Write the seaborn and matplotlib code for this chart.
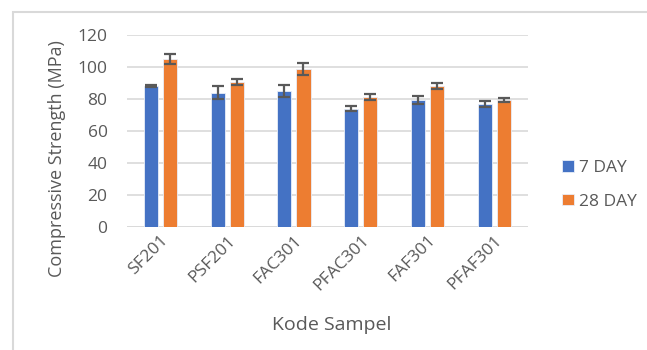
import numpy as np
import pandas as pd
import seaborn as sns
import matplotlib.pyplot as plt
from matplotlib.patches import Rectangle

categories = ["SF201", "PSF201", "FAC301", "PFAC301", "FAF301", "PFAF301"]
series_names = ["7 DAY", "28 DAY"]
day7 = [88.1, 84.0, 85.0, 73.8, 79.2, 76.9]
day28 = [104.8, 90.6, 98.6, 81.3, 88.1, 79.2]
err7 = [0.5, 4.2, 3.6, 1.6, 2.6, 1.9]
err28 = [3.2, 2.0, 3.9, 1.7, 2.0, 1.4]

df = pd.DataFrame({
    "Kode": categories * 2,
    "Series": [series_names[0]] * 6 + [series_names[1]] * 6,
    "Value": day7 + day28,
})

sns.set_theme(style="white")
plt.rcParams["font.family"] = ["Open Sans", "DejaVu Sans"]

fig = plt.figure(figsize=(6.47, 3.5), dpi=100)
ax = fig.add_axes([127 / 647, 1 - 226.7 / 350, (527.7 - 127) / 647, (226.7 - 35) / 350])

palette = {"7 DAY": "#4472C4", "28 DAY": "#ED7D31"}
sns.barplot(data=df, x="Kode", y="Value", hue="Series", palette=palette,
            width=0.57, gap=0.26, ax=ax, legend=True, saturation=1,
            edgecolor="#e8eef8", linewidth=0.6)

# error bars from the bars' positions
errs = {"7 DAY": err7, "28 DAY": err28}
vals = {"7 DAY": day7, "28 DAY": day28}
for cont, name in zip(ax.containers, series_names):
    xs = [p.get_x() + p.get_width() / 2 for p in cont.patches]
    ax.errorbar(xs, vals[name], yerr=errs[name], fmt="none", ecolor="#595959",
                elinewidth=1.6, capsize=4, capthick=1.6, zorder=5)

ax.set_ylim(0, 120)
ax.set_yticks(np.arange(0, 121, 20))
ax.set_xlim(-0.5, 5.5)
ax.yaxis.grid(True, color="#d9d9d9", linewidth=1.2)
ax.set_axisbelow(True)
for s in ax.spines.values():
    s.set_visible(False)
ax.axhline(0, color="#d9d9d9", linewidth=1.2, zorder=0)

tc = "#595959"
ax.tick_params(axis="y", labelsize=12.5, colors=tc, length=0, pad=14)
ax.tick_params(axis="x", labelsize=12.5, colors=tc, length=0, pad=4)
plt.setp(ax.get_xticklabels(), rotation=45, ha="right", rotation_mode="anchor")
ax.set_ylabel("Compressive Strength (MPa)", fontsize=13, color=tc)
ax.yaxis.set_label_coords(-0.152, (226.7 - 159) / 191.7)
ax.set_xlabel("Kode Sampel", fontsize=14, color=tc)
ax.xaxis.set_label_coords((332 - 127) / 400.7, (226.7 - 316) / 191.7)

leg = ax.legend(loc="center left", bbox_to_anchor=(562 / 647, (350 - 185) / 350),
                bbox_transform=fig.transFigure, frameon=False, borderaxespad=0,
                borderpad=0, fontsize=12.5, handlelength=0.67, handleheight=0.67,
                labelspacing=1.0, handletextpad=0.3)
for t in leg.get_texts():
    t.set_color(tc)

fig.patches.append(Rectangle((13 / 647, -0.1), 1.2, 1 - 12 / 350 + 0.1,
                             transform=fig.transFigure, fill=False,
                             edgecolor="#d9d9d9", linewidth=1.5, zorder=-10))

fig.savefig("out.png", dpi=100, facecolor="white")
